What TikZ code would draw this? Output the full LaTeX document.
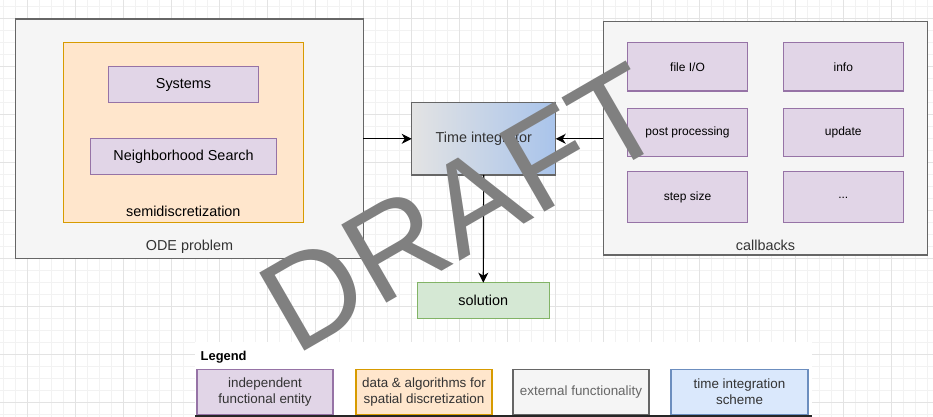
\documentclass[tikz,border=0pt]{standalone}
\usepackage{fontspec}
\setmainfont{Liberation Sans}
\usepackage{tikz}
\usetikzlibrary{arrows.meta}
\definecolor{gridminor}{HTML}{F2F2F2}
\definecolor{gridmajor}{HTML}{E3E3E3}
\definecolor{panelfill}{HTML}{F5F5F5}
\definecolor{panelline}{HTML}{666666}
\definecolor{semifill}{HTML}{FFE6CC}
\definecolor{semiline}{HTML}{D79B00}
\definecolor{entityfill}{HTML}{E1D5E7}
\definecolor{entityline}{HTML}{9673A6}
\definecolor{solfill}{HTML}{D5E8D4}
\definecolor{solline}{HTML}{82B366}
\definecolor{schemefill}{HTML}{DAE8FC}
\definecolor{schemeline}{HTML}{6C8EBF}
\definecolor{integleft}{HTML}{E3E3E3}
\definecolor{integright}{HTML}{A9C4EB}
\definecolor{darktext}{HTML}{333333}
\definecolor{draftgray}{HTML}{808080}

\begin{document}
\begin{tikzpicture}[x=1pt, y=-1pt,
    every node/.style={inner sep=0pt, outer sep=0pt, font=\fontsize{14.4}{17}\selectfont},
    panel/.style={draw=panelline, fill=panelfill, line width=1.2pt},
    semibox/.style={draw=semiline, fill=semifill, line width=1.2pt},
    entity/.style={draw=entityline, fill=entityfill, line width=1.2pt},
    cbitem/.style={entity, minimum width=120.4pt, font=\fontsize{12}{14}\selectfont},
    legbox/.style={line width=1.2pt, minimum width=136pt, minimum height=45pt, align=center, text=darktext, font=\fontsize{13.4}{16}\selectfont},
    flow/.style={-{Stealth[length=10pt, width=10pt, inset=3pt]}, line width=1.2pt}]
    \useasboundingbox (0,0) rectangle (933,417);
    \fill[white] (0,0) rectangle (933,417);
    \foreach \gx in {3.3,15.3,...,933} \draw[gridminor, line width=1pt] (\gx,0) -- (\gx,417);
    \foreach \gy in {6.7,18.7,...,417} \draw[gridminor, line width=1pt] (0,\gy) -- (933,\gy);
    \foreach \gx in {27.3,75.3,...,933} \draw[gridmajor, line width=1pt] (\gx,0) -- (\gx,417);
    \foreach \gy in {18.7,66.7,...,417} \draw[gridmajor, line width=1pt] (0,\gy) -- (933,\gy);
    \fill[white] (195,342) rectangle (812,417);

    \node[panel, minimum width=347.6pt, minimum height=239.3pt] (ode) at (189.5,138.7) {};
    \node[text=darktext] (odelabel) at (189.5,247) {ODE problem};
    \node[semibox, minimum width=240pt, minimum height=180pt] (semi) at (183.3,132.7) {};
    \node (semilabel) at (183.3,211) {semidiscretization};
    \node[entity, minimum width=150.4pt, minimum height=36pt] (systems) at (183.5,84.7) {Systems};
    \node[entity, minimum width=186.4pt, minimum height=36pt] (nhs) at (183.5,156.7) {Neighborhood Search};

    \node[draw=panelline, line width=1.2pt, left color=integleft, right color=integright, minimum width=144pt, minimum height=72.3pt, text=darktext] (integ) at (483.7,138.8) {Time integrator};
    \node[draw=solline, fill=solfill, line width=1.2pt, minimum width=132pt, minimum height=35.6pt] (sol) at (483.3,300.5) {solution};

    \node[panel, minimum width=324.4pt, minimum height=233.3pt] (cb) at (765.5,138.3) {};
    \node[text=darktext] (cblabel) at (765.5,245) {callbacks};
    \node[cbitem, minimum height=48.3pt] (fileio) at (687.5,66.8) {file I/O};
    \node[cbitem, minimum height=48.3pt] (info) at (843.3,66.8) {info};
    \node[cbitem, minimum height=48pt] (postproc) at (687.5,132.7) {post processing};
    \node[cbitem, minimum height=48pt] (update) at (843.3,132.7) {update};
    \node[cbitem, minimum height=51pt] (stepsize) at (687.5,197.2) {step size};
    \node[cbitem, minimum height=51pt, text height=3pt, text depth=0pt] (more) at (843.3,197.2) {...};

    \draw[flow] (ode.east |- integ.west) -- (integ.west);
    \draw[flow] (cb.west |- integ.east) -- (integ.east);
    \draw[flow] (integ.south) -- (sol.north);

    \node[anchor=west, font=\bfseries\fontsize{12.9}{15}\selectfont] (legtitle) at (200.7,356.7) {Legend};
    \node[legbox, draw=entityline, fill=entityfill] (legentity) at (265,392) {independent\\functional entity};
    \node[legbox, draw=semiline, fill=semifill] (legsemi) at (424,392) {data \& algorithms for\\spatial discretization};
    \node[legbox, draw=panelline, fill=panelfill, text=panelline] (legext) at (581,392) {external functionality};
    \node[legbox, draw=schemeline, fill=schemefill, minimum width=137pt] (legscheme) at (739.5,392) {time integration\\scheme};
    \draw[line width=1.5pt, black!85] (195,416.2) -- (812,416.2);

    \node[anchor=base, rotate=30, text=draftgray, font=\fontsize{131}{131}\selectfont] (draft) at (485,247) {DRAFT};
\end{tikzpicture}
\end{document}
